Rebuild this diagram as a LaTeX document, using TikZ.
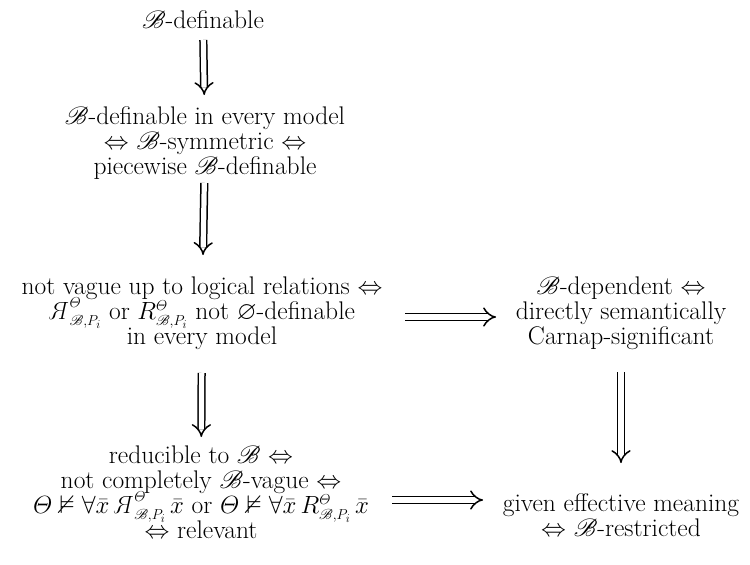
\documentclass[tikz,border=0pt]{standalone}
\usepackage{amsmath,amssymb,mathrsfs,graphicx}
\usetikzlibrary{arrows.meta}

% mirrored, forward-slanted R used for the complementary relation
\newcommand{\revR}{\mathord{\tikz[baseline=0pt]\node[inner sep=0pt, anchor=base, xslant=0.22]{\reflectbox{$\mathrm{R}$}};}}
\newcommand{\sB}{\mathscr{B}}
\newcommand{\Rel}[1]{#1^{\varTheta}_{\sB,P_i}}
% text size for the statements, with fixed line distance and small scripts
\DeclareMathSizes{25.5}{25.5}{15.5}{11.5}
\newcommand{\claimfont}{\fontsize{25.5}{25}\selectfont\setlength{\lineskiplimit}{-100pt}}

\begin{document}
\begin{tikzpicture}[x=1pt, y=-1pt,
  claim/.style={align=center, inner sep=0pt, font=\claimfont},
  imp/.style={double, double distance=5.2pt, line width=1.5pt, -{Implies}}]
\useasboundingbox (0,0) rectangle (750,565);

\node[claim] (n1) at (203,20) {$\sB$-definable};
\node[claim] (n2) at (205,143) {$\sB$-definable in every model\\
  $\Leftrightarrow$ $\sB$-symmetric $\Leftrightarrow$\\
  piecewise $\sB$-definable};
\node[claim] (n3) at (202,313) {not vague up to logical relations $\Leftrightarrow$\\
  $\Rel{\revR}$ or $\Rel{R}$ not $\varnothing$-definable\\
  in every model};
\node[claim] (r1) at (621,313) {$\sB$-dependent $\Leftrightarrow$\\
  directly semantically\\
  Carnap-significant};
\node[claim] (n4) at (201,492) {reducible to $\sB$ $\Leftrightarrow$\\
  not completely $\sB$-vague $\Leftrightarrow$\\
  $\varTheta\nvDash\forall\bar{x}\,\Rel{\revR}\,\bar{x}$ or $\varTheta\nvDash\forall\bar{x}\,\Rel{R}\,\bar{x}$\\
  $\Leftrightarrow$ relevant};
\node[claim] (r2) at (621,515) {given effective meaning\\
  $\Leftrightarrow$ $\sB$-restricted};

% vertical implications
\draw[imp, shorten <=20pt, shorten >=48pt] (n1.center) -- (n2.center);
\draw[imp, shorten <=40pt, shorten >=58pt] (n2.center) -- (n3.center);
\draw[imp, shorten <=60pt, shorten >=55pt] (n3.center) -- (n4.center);
\draw[imp, shorten <=59pt, shorten >=52pt] (r1.center) -- (r2.center);
% horizontal implications
\draw[imp, shorten <=203pt, shorten >=125pt] ([yshift=-4pt]n3.center) -- ([yshift=-4pt]r1.center);
\draw[imp, shorten <=191pt, shorten >=138pt] ([yshift=-8pt]n4.center) -- ([yshift=15pt]r2.center);
\end{tikzpicture}
\end{document}
